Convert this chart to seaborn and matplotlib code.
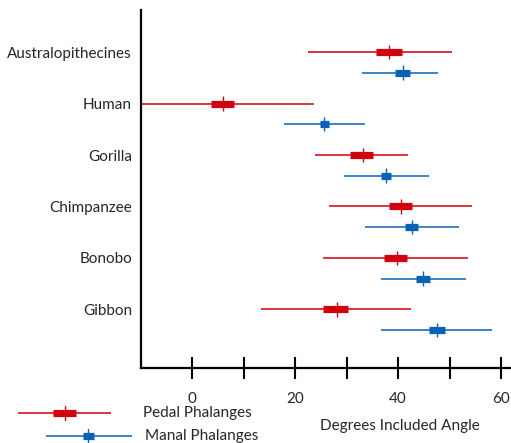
import matplotlib
matplotlib.use("Agg")
import matplotlib.pyplot as plt
from matplotlib.lines import Line2D
import pandas as pd
import seaborn as sns

# data (degrees included angle)
species = ["Australopithecines", "Human", "Gorilla", "Chimpanzee", "Bonobo", "Gibbon"]

pedal_lo = [22.5, -12.0, 23.9, 26.5, 25.5, 13.3]
pedal_q1 = [35.7, 3.7, 30.7, 38.3, 37.3, 25.5]
pedal_med = [38.3, 6.0, 33.1, 40.6, 39.7, 28.1]
pedal_q3 = [40.8, 8.1, 35.2, 42.7, 41.8, 30.3]
pedal_hi = [50.5, 23.7, 41.9, 54.3, 53.5, 42.5]

manal_lo = [33.0, 17.9, 29.4, 33.5, 36.7, 36.7]
manal_q1 = [39.4, 24.8, 36.6, 41.4, 43.5, 46.0]
manal_med = [40.9, 25.7, 37.6, 42.7, 44.9, 47.6]
manal_q3 = [42.3, 26.6, 38.6, 43.9, 46.2, 49.0]
manal_hi = [47.8, 33.6, 45.9, 51.9, 53.1, 58.3]

red = "#d0000f"
blue = "#0a62b4"

sns.set_style("white")
plt.rcParams["font.family"] = ["Lato", "DejaVu Sans"]
fs = 11

rows = []
for i, sp in enumerate(species):
    rows.append(dict(species=sp, group="Pedal", y=i, lo=pedal_lo[i], q1=pedal_q1[i],
                     med=pedal_med[i], q3=pedal_q3[i], hi=pedal_hi[i]))
    rows.append(dict(species=sp, group="Manal", y=i + 0.4, lo=manal_lo[i], q1=manal_q1[i],
                     med=manal_med[i], q3=manal_q3[i], hi=manal_hi[i]))
df = pd.DataFrame(rows)
colors = {"Pedal": red, "Manal": blue}

fig = plt.figure(figsize=(5.11, 4.43), dpi=100)
ax = fig.add_axes([141 / 511, 1 - 368 / 443, 1 - 141 / 511, (368 - 10) / 443])

for g, sub in df.groupby("group"):
    ax.hlines(sub["y"], sub["lo"], sub["hi"], color=colors[g], lw=1.1, capstyle="butt")
    ax.hlines(sub["y"], sub["q1"], sub["q3"], color=colors[g], lw=5.2, capstyle="butt")

sns.scatterplot(data=df, x="med", y="y", hue="group", palette=colors, marker="|",
                s=110, linewidth=1.0, legend=False, ax=ax, zorder=3)

ax.set_xlim(-9.9, 61.9)
ax.set_ylim(6.14, -0.82)
ax.set_xticks(range(0, 61, 10))
ax.set_xticklabels(["0", "", "20", "", "40", "", "60"], fontsize=fs)
ax.set_yticks(range(len(species)))
ax.set_yticklabels(species, fontsize=fs)
ax.tick_params(axis="x", bottom=True, direction="inout", length=16, width=1.5, pad=9,
               color="black")
ax.tick_params(axis="y", left=False, length=0, pad=6.5)
ax.set_xlabel("")
ax.set_ylabel("")
for side in ["top", "right"]:
    ax.spines[side].set_visible(False)
for side in ["left", "bottom"]:
    ax.spines[side].set_color("black")
    ax.spines[side].set_linewidth(1.6)

# legend drawn by hand at bottom left
def fig_y(py):
    return 1 - py / 443

def legend_item(py, x0, x1, b0, b1, xm, c, label, tx):
    fig.add_artist(Line2D([x0 / 511, x1 / 511], [fig_y(py)] * 2, color=c, lw=1.1,
                          solid_capstyle="butt"))
    fig.add_artist(Line2D([b0 / 511, b1 / 511], [fig_y(py)] * 2, color=c, lw=5.2,
                          solid_capstyle="butt"))
    fig.add_artist(Line2D([xm / 511] * 2, [fig_y(py - 7), fig_y(py + 7)], color=c, lw=1.0))
    fig.text(tx / 511, fig_y(py), label, fontsize=fs, va="center", ha="left")

legend_item(413, 18, 111, 53, 76, 65, red, "Pedal Phalanges", 143)
legend_item(436, 46, 132, 83, 94, 88, blue, "Manal Phalanges", 145)

fig.text(320 / 511, fig_y(426), "Degrees Included Angle", fontsize=fs, va="center", ha="left")

fig.savefig("out.png", dpi=100)
